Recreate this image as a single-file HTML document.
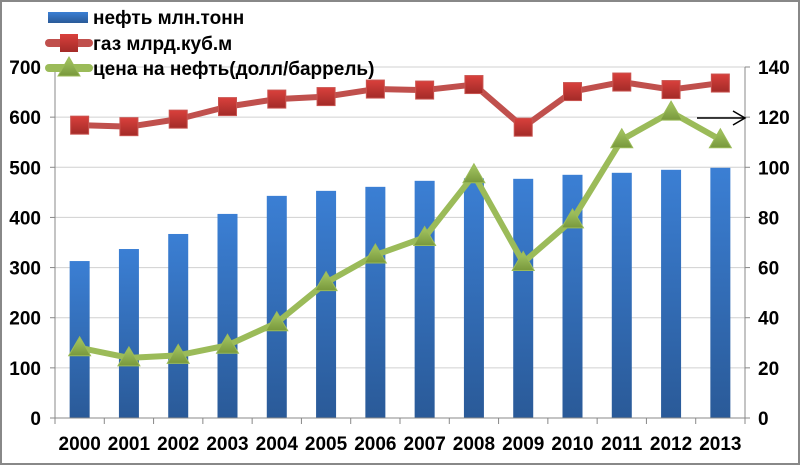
<!DOCTYPE html>
<html><head><meta charset="utf-8"><style>
body{margin:0;background:#fff}
svg{display:block;font-family:"Liberation Sans",sans-serif;font-weight:bold}
</style></head><body>
<svg id="s" width="800" height="465" xmlns="http://www.w3.org/2000/svg">
<defs>
<linearGradient id="bg" x1="0" y1="0" x2="0" y2="1"><stop offset="0" stop-color="#3b7fd4"/><stop offset="1" stop-color="#2a5a98"/></linearGradient>
<linearGradient id="rg" x1="0" y1="0" x2="0" y2="1"><stop offset="0" stop-color="#d9403c"/><stop offset="1" stop-color="#a32b28"/></linearGradient>
<linearGradient id="gg" x1="0" y1="0" x2="0" y2="1"><stop offset="0" stop-color="#a6c864"/><stop offset="1" stop-color="#78983c"/></linearGradient>
</defs>
<rect x="1" y="1" width="798" height="463" fill="#fff" stroke="#888" stroke-width="2"/>
<g id="g"></g>
</svg>
<script>
var ns="http://www.w3.org/2000/svg",g=document.getElementById('g');
function el(t,a,txt){var e=document.createElementNS(ns,t);for(var k in a)e.setAttribute(k,a[k]);if(txt!=null)e.textContent=txt;g.appendChild(e);return e;}
var L=55,R=745,B=418,T=67,cw=(R-L)/14,FS=19;
function X(i){return L+cw*(i+0.5);}
function YL(v){return B-v*(B-T)/700;}
function YR(v){return B-v*(B-T)/140;}
for(var v=100;v<=700;v+=100)el('line',{x1:L,x2:R,y1:YL(v),y2:YL(v),stroke:'#d0d0d0','stroke-width':1});
var oil=[313,337,367,407,443,453,461,473,478,477,485,489,495,499];
var gas=[584,581,596,621,636,641,656,654,665,580,651,670,655,668];
var pr=[28,24,25,29,38,54,65,72,97,62,79,111,122,111];
for(var i=0;i<14;i++){el('rect',{x:X(i)-10,y:YL(oil[i]),width:20,height:B-YL(oil[i]),fill:'url(#bg)'});}
el('line',{x1:L,x2:L,y1:T,y2:B,stroke:'#888'});
el('line',{x1:R,x2:R,y1:T,y2:B,stroke:'#888'});
el('line',{x1:L-5,x2:R+5,y1:B,y2:B,stroke:'#888'});
for(var v=0;v<=700;v+=100){el('line',{x1:L-5,x2:L,y1:YL(v),y2:YL(v),stroke:'#888'});el('text',{x:L-14,y:YL(v)+7,'text-anchor':'end','font-size':FS},v);}
for(var v=0;v<=140;v+=20){el('line',{x1:R,x2:R+5,y1:YR(v),y2:YR(v),stroke:'#888'});el('text',{x:R+13,y:YR(v)+7,'font-size':FS},v);}
for(var i=0;i<=14;i++)el('line',{x1:L+cw*i,x2:L+cw*i,y1:B,y2:B+6,stroke:'#888'});
for(var i=0;i<14;i++)el('text',{x:X(i),y:450,'text-anchor':'middle','font-size':FS},2000+i);
var p='';for(var i=0;i<14;i++)p+=(i?'L':'M')+X(i)+' '+YL(gas[i]);
el('path',{d:p,fill:'none',stroke:'#c0504d','stroke-width':6,'stroke-linejoin':'round'});
for(var i=0;i<14;i++)el('rect',{x:X(i)-9,y:YL(gas[i])-9,width:18,height:18,fill:'url(#rg)',stroke:'#c95450','stroke-width':1});
p='';for(var i=0;i<14;i++)p+=(i?'L':'M')+X(i)+' '+YR(pr[i]);
el('path',{d:p,fill:'none',stroke:'#9bbb59','stroke-width':6,'stroke-linejoin':'round'});
function tri(x,y){el('path',{d:'M'+x+' '+(y-11)+'L'+(x+11)+' '+(y+8)+'L'+(x-11)+' '+(y+8)+'Z',fill:'url(#gg)',stroke:'#9bbb59','stroke-width':1});}
for(var i=0;i<14;i++)tri(X(i),YR(pr[i]));
el('line',{x1:697,x2:744,y1:118,y2:118,stroke:'#000','stroke-width':1.5});
el('path',{d:'M733 111L745 118L733 125',fill:'none',stroke:'#000','stroke-width':1.5});
el('rect',{x:48,y:12,width:40,height:11,fill:'url(#bg)'});
el('text',{x:93,y:24,'font-size':FS},'нефть млн.тонн');
el('line',{x1:49,x2:89,y1:43,y2:43,stroke:'#c0504d','stroke-width':8,'stroke-linecap':'round'});
el('rect',{x:60,y:34,width:18,height:18,fill:'url(#rg)'});
el('text',{x:93,y:50,'font-size':FS},'газ млрд.куб.м');
el('line',{x1:49,x2:89,y1:68,y2:68,stroke:'#9bbb59','stroke-width':8,'stroke-linecap':'round'});
tri(69,68);
el('text',{x:93,y:75,'font-size':FS},'цена на нефть(долл/баррель)');
</script>
</body></html>
